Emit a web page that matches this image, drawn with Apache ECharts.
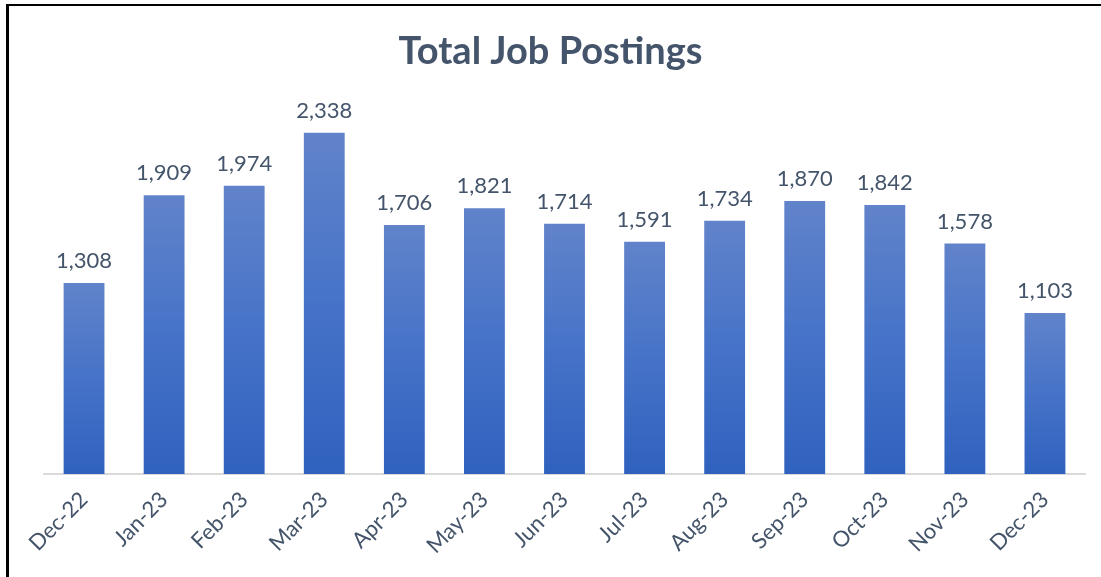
<!DOCTYPE html>
<html>
<head>
<meta charset="utf-8">
<script src="https://cdn.jsdelivr.net/npm/echarts@6/dist/echarts.min.js"></script>
<style>
  html, body { margin: 0; padding: 0; background: #fff; }
  #wrap { position: relative; width: 1101px; height: 577px; overflow: hidden; }
  #chart { position: absolute; left: 0; top: 0; width: 1101px; height: 577px; }
  #frame { position: absolute; left: 6px; top: 4px; width: 1200px; height: 700px;
           border-left: 3px solid #000; border-top: 2px solid #000; pointer-events: none; }
</style>
</head>
<body>
<div id="wrap">
  <div id="chart"></div>
  <div id="frame"></div>
</div>
<script>
const months = ['Dec-22', 'Jan-23', 'Feb-23', 'Mar-23', 'Apr-23', 'May-23', 'Jun-23',
  'Jul-23', 'Aug-23', 'Sep-23', 'Oct-23', 'Nov-23', 'Dec-23'];
const postings = [1308, 1909, 1974, 2338, 1706, 1821, 1714, 1591, 1734, 1870, 1842, 1578, 1103];

const textColor = '#44546A';
const font = 'Lato, "Open Sans", sans-serif';

const myChart = echarts.init(document.getElementById('chart'));

const option = {
  backgroundColor: 'transparent',
  animation: false,
  title: {
    text: 'Total Job Postings',
    left: 'center',
    top: 28,
    textStyle: {
      color: textColor,
      fontSize: 38,
      fontWeight: 'bold',
      fontFamily: font
    }
  },
  grid: {
    left: 44,
    right: 16,
    top: 109,
    bottom: 103
  },
  xAxis: {
    type: 'category',
    data: months,
    axisLine: { show: true, lineStyle: { color: '#D9D9D9', width: 2 } },
    axisTick: { show: false },
    axisLabel: {
      rotate: 45,
      margin: 22,
      color: textColor,
      fontSize: 22,
      fontFamily: font
    }
  },
  yAxis: {
    type: 'value',
    min: 0,
    max: 2500,
    show: false,
    splitLine: { show: false }
  },
  series: [
    {
      name: 'Total Job Postings',
      type: 'bar',
      data: postings,
      barWidth: '51%',
      itemStyle: {
        color: new echarts.graphic.LinearGradient(0, 0, 0, 1, [
          { offset: 0, color: '#6183CA' },
          { offset: 0.5, color: '#4673C8' },
          { offset: 1, color: '#2F61BE' }
        ])
      },
      label: {
        show: true,
        position: 'top',
        distance: 11,
        color: textColor,
        fontSize: 22,
        fontFamily: font,
        formatter: p => p.value.toLocaleString('en-US')
      }
    }
  ]
};

myChart.setOption(option);
</script>
</body>
</html>
